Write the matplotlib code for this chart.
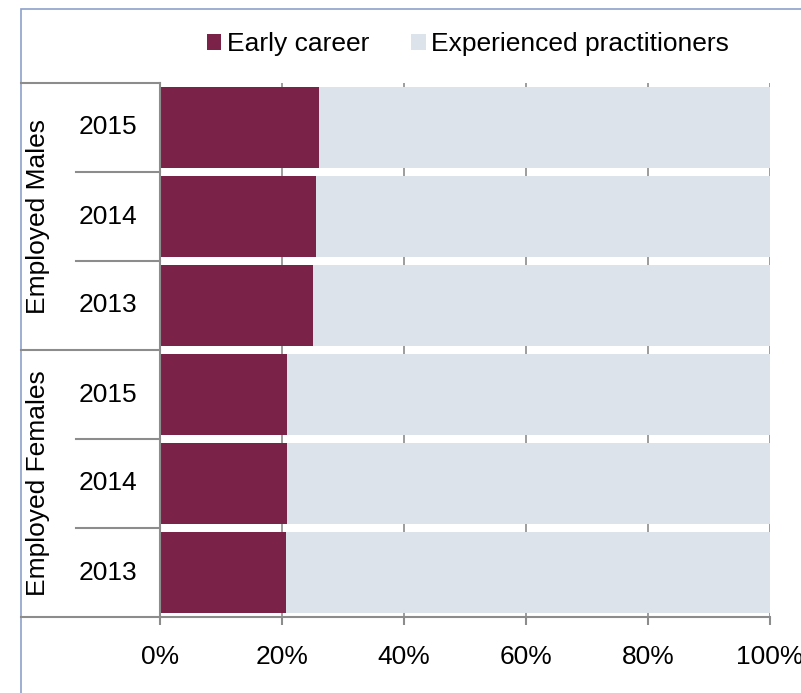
import matplotlib.pyplot as plt
from matplotlib.lines import Line2D
from matplotlib.patches import Rectangle
import matplotlib.transforms as mtransforms

# --- data (top to bottom as drawn) ---
groups = ['Employed Males', 'Employed Females']
years = ['2015', '2014', '2013']
early_career = [26.1, 25.5, 25.0, 20.8, 20.8, 20.7]
experienced = [100 - v for v in early_career]
series_names = ['Early career', 'Experienced practitioners']
x_ticks = [0, 20, 40, 60, 80, 100]

MAROON = '#7B2249'
LIGHT = '#DCE3EB'
GRAY = '#8C8C8C'
FRAME = '#8EA1C9'

plt.rcParams['font.family'] = ['Liberation Sans', 'DejaVu Sans']
plt.rcParams['font.size'] = 19

W, H = 801, 693
fig = plt.figure(figsize=(W / 100, H / 100), dpi=100)


def fx(px):
    return px / W


def fy(py):
    return 1 - py / H


# outer chart frame (cropped at right/bottom)
fig.patches.append(Rectangle((fx(21), fy(700)), 1.0, fy(9) - fy(700),
                             transform=fig.transFigure, fill=False,
                             edgecolor=FRAME, linewidth=1.2))

ax = fig.add_axes([fx(160), fy(617), fx(770) - fx(160), fy(83) - fy(617)])

n = len(early_career)
ypos = list(range(n))
ax.barh(ypos, early_career, height=0.9, color=MAROON, label=series_names[0], zorder=2)
ax.barh(ypos, experienced, left=early_career, height=0.9, color=LIGHT,
        label=series_names[1], zorder=2)

ax.set_xlim(0, 100)
ax.set_ylim(n - 0.5, -0.5)
ax.set_xticks(x_ticks)
ax.set_xticklabels([f'{t}%' for t in x_ticks])
ax.tick_params(axis='x', direction='out', length=6, width=1.5, color=GRAY, pad=14)
ax.set_yticks([])
ax.xaxis.grid(True, color=GRAY, linewidth=1.2, zorder=0)
ax.set_axisbelow(True)
for side in ['top', 'right']:
    ax.spines[side].set_visible(False)
for side in ['left', 'bottom']:
    ax.spines[side].set_color(GRAY)
    ax.spines[side].set_linewidth(1.5)

# multi-level category axis on the left
trans = mtransforms.blended_transform_factory(fig.transFigure, ax.transData)
line_kw = dict(color=GRAY, linewidth=1.5, transform=trans, clip_on=False)
fig.add_artist(Line2D([fx(21), fx(160)], [n - 0.5, n - 0.5], **line_kw))
fig.add_artist(Line2D([fx(21), fx(160)], [-0.5, -0.5], **line_kw))
for g, name in enumerate(groups):
    start = g * len(years)
    if g > 0:
        fig.add_artist(Line2D([fx(21), fx(160)], [start - 0.5, start - 0.5], **line_kw))
    for k, yr in enumerate(years):
        i = start + k
        if k > 0:
            fig.add_artist(Line2D([fx(76), fx(160)], [i - 0.5, i - 0.5], **line_kw))
        fig.text(fx(108), i, yr, transform=trans, ha='center', va='center')
    mid = start + (len(years) - 1) / 2
    fig.text(fx(38), mid, name, transform=trans, ha='center', va='center',
             rotation=90)

fig.legend(loc='center', bbox_to_anchor=(fx(468), fy(44)), ncol=2, frameon=False,
           handlelength=0.55, handleheight=0.55, handletextpad=0.2, columnspacing=1.6,
           borderaxespad=0)

fig.savefig('out.png', dpi=100)
